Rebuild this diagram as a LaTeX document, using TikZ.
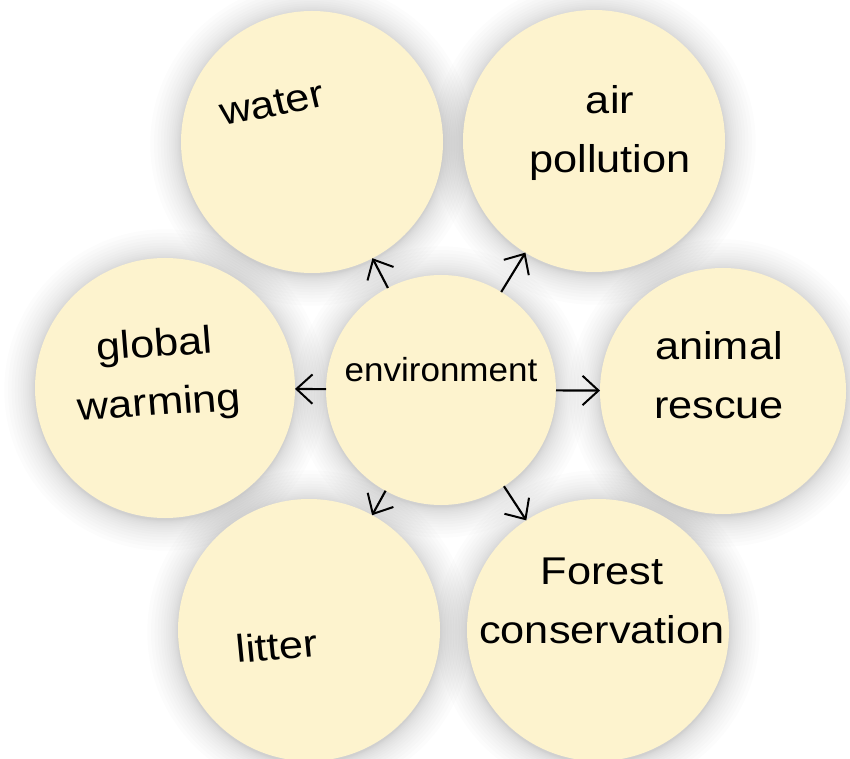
\documentclass[tikz,border=0pt]{standalone}
\usepackage{fontspec}
\setmainfont{Liberation Sans}
\usetikzlibrary{arrows.meta}

\definecolor{bubble}{RGB}{253,243,206}

\tikzset{every picture/.style={line width=0.75pt}}
\tikzset{
  topic/.style={circle, fill=bubble, inner sep=0pt, outer sep=0pt, minimum size=#1},
  lbl/.style={font=\fontsize{29}{44}\selectfont, align=center, xscale=1.12},
  hub/.style={font=\fontsize{25}{28}\selectfont, xscale=1.05},
  arr/.style={-{Straight Barb[length=12pt,width=22pt,line width=1.5pt]}, line width=1.6pt}
}

\begin{document}
\begin{tikzpicture}[x=0.75pt,y=0.75pt,yscale=-1,xscale=1]
\useasboundingbox (0,0) rectangle (850,759);
\clip (0,0) rectangle (850,759);

% soft shadows behind the bubbles
\foreach \cx/\cy/\r in {312/142/131, 594/141/131, 723/391/123, 598/630/131, 309/630/131, 165/388/130, 441/390/115}
  \foreach \i in {1,...,16}
    \fill[black, opacity=0.011] (\cx,\cy+2) circle [radius={(\r+0.12*\i*\i)*0.75pt}];

% bubbles
\node[topic=196.5pt] (water) at (312,142) {};
\node[topic=196.5pt] (air) at (594,141) {};
\node[topic=184.5pt] (animal) at (723,391) {};
\node[topic=196.5pt] (forest) at (598,630) {};
\node[topic=196.5pt] (litter) at (309,630) {};
\node[topic=195pt] (warming) at (165,388) {};
\node[topic=172.5pt] (env) at (441,390) {};

% labels
\node[lbl, rotate=12] (waterlbl) at (272,104) {water};
\node[lbl] (airlbl) at (610,133) {air\\pollution};
\node[lbl] (animallbl) at (719,375) {animal\\rescue};
\node[lbl] (forestlbl) at (602,601) {Forest\\conservation};
\node[lbl, rotate=5] (litterlbl) at (277,646) {litter};
\node[lbl, rotate=4] (warminglbl) at (157,376) {global\\warming};
\node[hub] (envlbl) at (441,370) {environment};

% arrows out of the hub
\draw[arr] (env) -- (water);
\draw[arr] (env) -- (air);
\draw[arr] (env) -- (animal);
\draw[arr] (env) -- (forest);
\draw[arr] (env) -- (litter);
\draw[arr] (env) -- (warming);

\end{tikzpicture}
\end{document}
